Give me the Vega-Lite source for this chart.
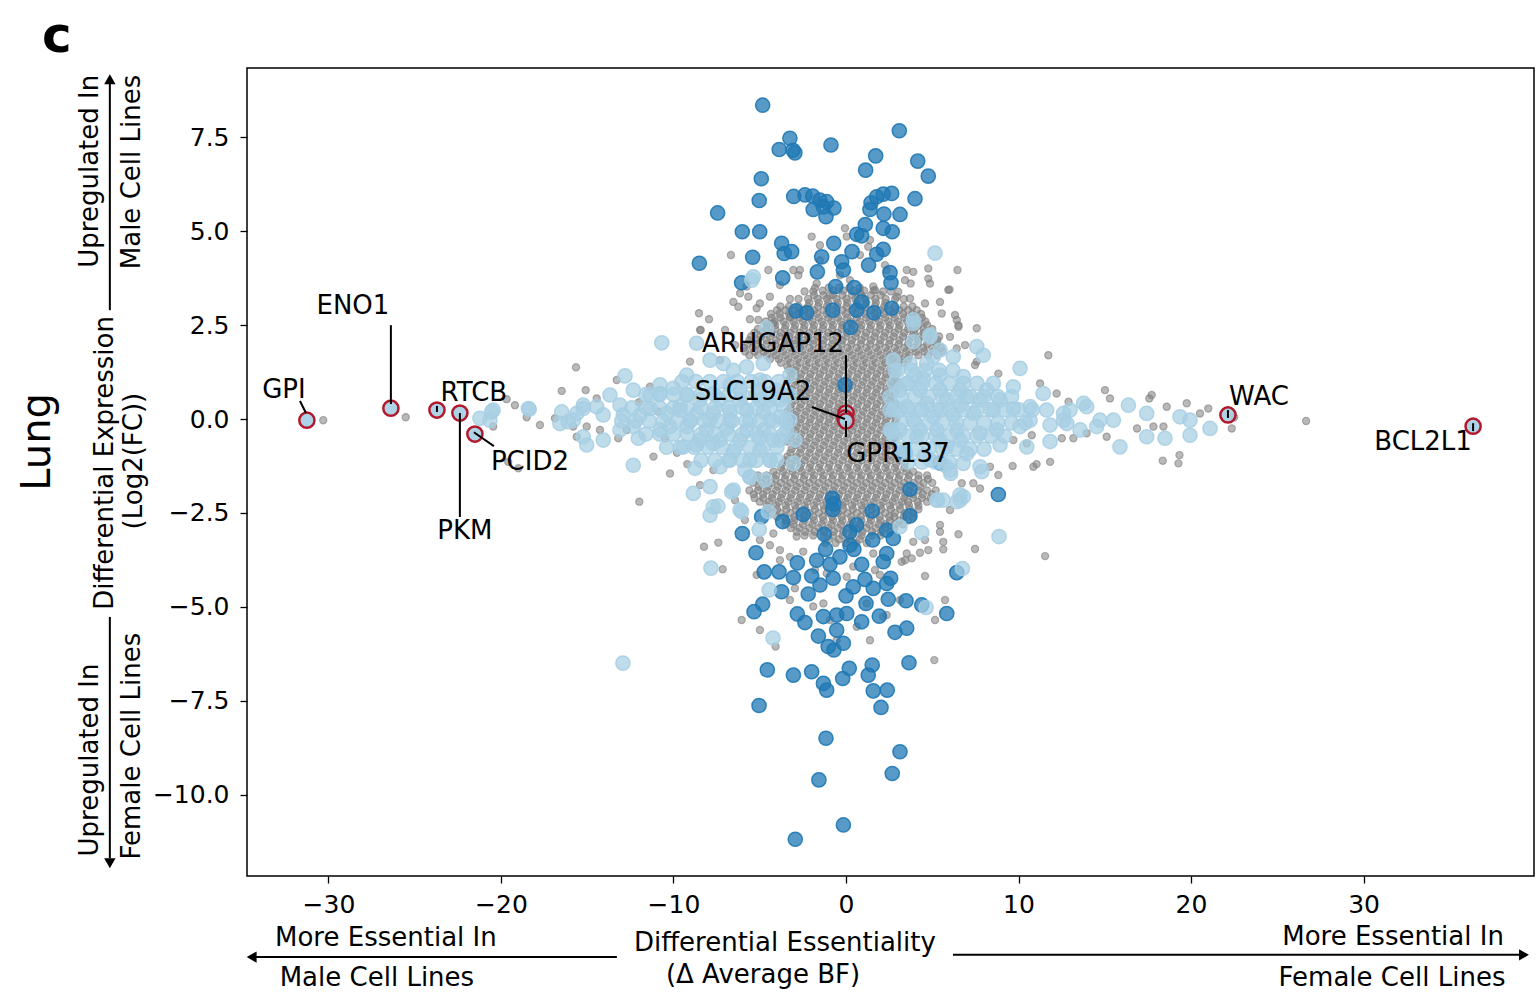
{
"$schema":"https://vega.github.io/schema/vega-lite/v6.json",
"width":1287,"height":808,
"autosize":{"type":"none"},
"padding":{"left":247,"top":68,"right":2,"bottom":118},
"background":"white",
"config":{"view":{"stroke":"black","strokeWidth":1.5},"font":"DejaVu Sans",
"axis":{"grid":false,"domain":false,"ticks":true,"tickColor":"black","tickSize":7,"tickWidth":1.3,"labelFont":"DejaVu Sans","labelFontSize":25,"labelColor":"black","labelFlush":false,"labelOverlap":false},
"axisX":{"labelPadding":9},"axisY":{"labelPadding":11}},
"datasets":{
"gray":[
{"x":-1.35,"y":3.42},{"x":-0.75,"y":3.42},{"x":-0.15,"y":3.42},{"x":0.45,"y":3.42},{"x":1.05,"y":3.42},{"x":1.6,"y":3.42},
{"x":-2.2,"y":3.2},{"x":-1.65,"y":3.2},{"x":-1.1,"y":3.2},{"x":-0.55,"y":3.2},{"x":0.02,"y":3.2},{"x":0.55,"y":3.2},{"x":1.1,"y":3.2},{"x":1.7,"y":3.2},{"x":2.3,"y":3.2},
{"x":-2.75,"y":3.0},{"x":-2.2,"y":3.0},{"x":-1.62,"y":3.0},{"x":-1.1,"y":3.0},{"x":-0.52,"y":3.0},{"x":0.03,"y":3.0},{"x":0.58,"y":3.0},{"x":1.12,"y":3.0},{"x":1.68,"y":3.0},{"x":2.22,"y":3.0},{"x":2.8,"y":3.0},
{"x":-3.3,"y":2.8},{"x":-2.78,"y":2.8},{"x":-2.2,"y":2.8},{"x":-1.68,"y":2.8},{"x":-1.12,"y":2.8},{"x":-0.56,"y":2.8},{"x":0,"y":2.8},{"x":0.55,"y":2.8},{"x":1.1,"y":2.8},{"x":1.66,"y":2.8},{"x":2.2,"y":2.8},{"x":2.74,"y":2.8},{"x":3.3,"y":2.8},
{"x":-3.62,"y":2.6},{"x":-3.05,"y":2.6},{"x":-2.5,"y":2.6},{"x":-1.95,"y":2.6},{"x":-1.4,"y":2.6},{"x":-0.85,"y":2.6},{"x":-0.3,"y":2.6},{"x":0.25,"y":2.6},{"x":0.8,"y":2.6},{"x":1.35,"y":2.6},{"x":1.9,"y":2.6},{"x":2.45,"y":2.6},{"x":3.0,"y":2.6},{"x":3.55,"y":2.6},
{"x":-4.1,"y":2.4},{"x":-3.55,"y":2.4},{"x":-3.0,"y":2.4},{"x":-2.45,"y":2.4},{"x":-1.9,"y":2.4},{"x":-1.35,"y":2.4},{"x":-0.8,"y":2.4},{"x":-0.25,"y":2.4},{"x":0.3,"y":2.4},{"x":0.85,"y":2.4},{"x":1.4,"y":2.4},{"x":1.95,"y":2.4},{"x":2.5,"y":2.4},{"x":3.05,"y":2.4},{"x":3.6,"y":2.4},{"x":4.0,"y":2.4},
{"x":-4.4,"y":2.2},{"x":-3.85,"y":2.2},{"x":-3.3,"y":2.2},{"x":-2.75,"y":2.2},{"x":-2.2,"y":2.2},{"x":-1.65,"y":2.2},{"x":-1.1,"y":2.2},{"x":-0.55,"y":2.2},{"x":0,"y":2.2},{"x":0.55,"y":2.2},{"x":1.1,"y":2.2},{"x":1.65,"y":2.2},{"x":2.2,"y":2.2},{"x":2.75,"y":2.2},{"x":3.3,"y":2.2},{"x":3.85,"y":2.2},{"x":4.3,"y":2.2},
{"x":-4.6,"y":2.0},{"x":-4.1,"y":2.0},{"x":-3.55,"y":2.0},{"x":-3.0,"y":2.0},{"x":-2.45,"y":2.0},{"x":-1.9,"y":2.0},{"x":-1.35,"y":2.0},{"x":-0.8,"y":2.0},{"x":-0.25,"y":2.0},{"x":0.3,"y":2.0},{"x":0.85,"y":2.0},{"x":1.4,"y":2.0},{"x":1.95,"y":2.0},{"x":2.5,"y":2.0},{"x":3.05,"y":2.0},{"x":3.6,"y":2.0},{"x":4.15,"y":2.0},
{"x":-4.75,"y":1.8},{"x":-4.2,"y":1.8},{"x":-3.65,"y":1.8},{"x":-3.1,"y":1.8},{"x":-2.55,"y":1.8},{"x":-2.0,"y":1.8},{"x":-1.45,"y":1.8},{"x":-0.9,"y":1.8},{"x":-0.35,"y":1.8},{"x":0.2,"y":1.8},{"x":0.75,"y":1.8},{"x":1.3,"y":1.8},{"x":1.85,"y":1.8},{"x":2.4,"y":1.8},{"x":2.95,"y":1.8},{"x":3.5,"y":1.8},{"x":4.05,"y":1.8},{"x":4.55,"y":1.8},
{"x":-4.4,"y":1.6},{"x":-3.9,"y":1.6},{"x":-3.35,"y":1.6},{"x":-2.8,"y":1.6},{"x":-2.25,"y":1.6},{"x":-1.7,"y":1.6},{"x":-1.15,"y":1.6},{"x":-0.6,"y":1.6},{"x":-0.05,"y":1.6},{"x":0.5,"y":1.6},{"x":1.05,"y":1.6},{"x":1.6,"y":1.6},{"x":2.15,"y":1.6},{"x":2.7,"y":1.6},{"x":3.25,"y":1.6},{"x":3.6,"y":1.6},
{"x":-3.4,"y":1.4},{"x":-2.85,"y":1.4},{"x":-2.3,"y":1.4},{"x":-1.75,"y":1.4},{"x":-1.2,"y":1.4},{"x":-0.65,"y":1.4},{"x":-0.1,"y":1.4},{"x":0.45,"y":1.4},{"x":1.0,"y":1.4},{"x":1.55,"y":1.4},{"x":2.1,"y":1.4},{"x":2.65,"y":1.4},{"x":3.0,"y":1.4},
{"x":-3.15,"y":1.2},{"x":-2.6,"y":1.2},{"x":-2.05,"y":1.2},{"x":-1.5,"y":1.2},{"x":-0.95,"y":1.2},{"x":-0.4,"y":1.2},{"x":0.15,"y":1.2},{"x":0.7,"y":1.2},{"x":1.25,"y":1.2},{"x":1.8,"y":1.2},{"x":2.35,"y":1.2},{"x":2.9,"y":1.2},
{"x":-3.4,"y":1.0},{"x":-2.85,"y":1.0},{"x":-2.3,"y":1.0},{"x":-1.75,"y":1.0},{"x":-1.2,"y":1.0},{"x":-0.65,"y":1.0},{"x":-0.1,"y":1.0},{"x":0.45,"y":1.0},{"x":1.0,"y":1.0},{"x":1.55,"y":1.0},{"x":2.1,"y":1.0},{"x":2.65,"y":1.0},{"x":3.0,"y":1.0},
{"x":-3.15,"y":0.8},{"x":-2.6,"y":0.8},{"x":-2.05,"y":0.8},{"x":-1.5,"y":0.8},{"x":-0.95,"y":0.8},{"x":-0.4,"y":0.8},{"x":0.15,"y":0.8},{"x":0.7,"y":0.8},{"x":1.25,"y":0.8},{"x":1.8,"y":0.8},{"x":2.35,"y":0.8},{"x":2.9,"y":0.8},
{"x":-3.4,"y":0.6},{"x":-2.85,"y":0.6},{"x":-2.3,"y":0.6},{"x":-1.75,"y":0.6},{"x":-1.2,"y":0.6},{"x":-0.65,"y":0.6},{"x":-0.1,"y":0.6},{"x":0.45,"y":0.6},{"x":1.0,"y":0.6},{"x":1.55,"y":0.6},{"x":2.1,"y":0.6},{"x":2.65,"y":0.6},
{"x":-3.15,"y":0.4},{"x":-2.6,"y":0.4},{"x":-2.05,"y":0.4},{"x":-1.5,"y":0.4},{"x":-0.95,"y":0.4},{"x":-0.4,"y":0.4},{"x":0.15,"y":0.4},{"x":0.7,"y":0.4},{"x":1.25,"y":0.4},{"x":1.8,"y":0.4},{"x":2.35,"y":0.4},{"x":2.9,"y":0.4},
{"x":-3.4,"y":0.2},{"x":-2.85,"y":0.2},{"x":-2.3,"y":0.2},{"x":-1.75,"y":0.2},{"x":-1.2,"y":0.2},{"x":-0.65,"y":0.2},{"x":-0.1,"y":0.2},{"x":0.45,"y":0.2},{"x":1.0,"y":0.2},{"x":1.55,"y":0.2},{"x":2.1,"y":0.2},{"x":2.65,"y":0.2},
{"x":-3.15,"y":0.0},{"x":-2.6,"y":0.0},{"x":-2.05,"y":0.0},{"x":-1.5,"y":0.0},{"x":-0.95,"y":0.0},{"x":-0.4,"y":0.0},{"x":0.15,"y":0.0},{"x":0.7,"y":0.0},{"x":1.25,"y":0.0},{"x":1.8,"y":0.0},{"x":2.35,"y":0.0},{"x":2.9,"y":0.0},
{"x":-3.4,"y":-0.2},{"x":-2.85,"y":-0.2},{"x":-2.3,"y":-0.2},{"x":-1.75,"y":-0.2},{"x":-1.2,"y":-0.2},{"x":-0.65,"y":-0.2},{"x":-0.1,"y":-0.2},{"x":0.45,"y":-0.2},{"x":1.0,"y":-0.2},{"x":1.55,"y":-0.2},{"x":2.1,"y":-0.2},{"x":2.65,"y":-0.2},
{"x":-3.15,"y":-0.4},{"x":-2.6,"y":-0.4},{"x":-2.05,"y":-0.4},{"x":-1.5,"y":-0.4},{"x":-0.95,"y":-0.4},{"x":-0.4,"y":-0.4},{"x":0.15,"y":-0.4},{"x":0.7,"y":-0.4},{"x":1.25,"y":-0.4},{"x":1.8,"y":-0.4},{"x":2.35,"y":-0.4},{"x":2.9,"y":-0.4},
{"x":-3.4,"y":-0.6},{"x":-2.85,"y":-0.6},{"x":-2.3,"y":-0.6},{"x":-1.75,"y":-0.6},{"x":-1.2,"y":-0.6},{"x":-0.65,"y":-0.6},{"x":-0.1,"y":-0.6},{"x":0.45,"y":-0.6},{"x":1.0,"y":-0.6},{"x":1.55,"y":-0.6},{"x":2.1,"y":-0.6},{"x":2.65,"y":-0.6},
{"x":-3.15,"y":-0.8},{"x":-2.6,"y":-0.8},{"x":-2.05,"y":-0.8},{"x":-1.5,"y":-0.8},{"x":-0.95,"y":-0.8},{"x":-0.4,"y":-0.8},{"x":0.15,"y":-0.8},{"x":0.7,"y":-0.8},{"x":1.25,"y":-0.8},{"x":1.8,"y":-0.8},{"x":2.35,"y":-0.8},{"x":2.9,"y":-0.8},
{"x":-3.4,"y":-1.0},{"x":-2.85,"y":-1.0},{"x":-2.3,"y":-1.0},{"x":-1.75,"y":-1.0},{"x":-1.2,"y":-1.0},{"x":-0.65,"y":-1.0},{"x":-0.1,"y":-1.0},{"x":0.45,"y":-1.0},{"x":1.0,"y":-1.0},{"x":1.55,"y":-1.0},{"x":2.1,"y":-1.0},{"x":2.65,"y":-1.0},{"x":3.1,"y":-1.0},
{"x":-3.7,"y":-1.2},{"x":-3.15,"y":-1.2},{"x":-2.6,"y":-1.2},{"x":-2.05,"y":-1.2},{"x":-1.5,"y":-1.2},{"x":-0.95,"y":-1.2},{"x":-0.4,"y":-1.2},{"x":0.15,"y":-1.2},{"x":0.7,"y":-1.2},{"x":1.25,"y":-1.2},{"x":1.8,"y":-1.2},{"x":2.35,"y":-1.2},{"x":2.9,"y":-1.2},{"x":3.4,"y":-1.2},
{"x":-4.2,"y":-1.4},{"x":-3.65,"y":-1.4},{"x":-3.1,"y":-1.4},{"x":-2.55,"y":-1.4},{"x":-2.0,"y":-1.4},{"x":-1.45,"y":-1.4},{"x":-0.9,"y":-1.4},{"x":-0.35,"y":-1.4},{"x":0.2,"y":-1.4},{"x":0.75,"y":-1.4},{"x":1.3,"y":-1.4},{"x":1.85,"y":-1.4},{"x":2.4,"y":-1.4},{"x":2.95,"y":-1.4},{"x":3.5,"y":-1.4},{"x":3.9,"y":-1.4},
{"x":-4.65,"y":-1.6},{"x":-4.1,"y":-1.6},{"x":-3.55,"y":-1.6},{"x":-3.0,"y":-1.6},{"x":-2.45,"y":-1.6},{"x":-1.9,"y":-1.6},{"x":-1.35,"y":-1.6},{"x":-0.8,"y":-1.6},{"x":-0.25,"y":-1.6},{"x":0.3,"y":-1.6},{"x":0.85,"y":-1.6},{"x":1.4,"y":-1.6},{"x":1.95,"y":-1.6},{"x":2.5,"y":-1.6},{"x":3.05,"y":-1.6},{"x":3.6,"y":-1.6},{"x":4.2,"y":-1.6},
{"x":-4.5,"y":-1.8},{"x":-3.95,"y":-1.8},{"x":-3.4,"y":-1.8},{"x":-2.85,"y":-1.8},{"x":-2.3,"y":-1.8},{"x":-1.75,"y":-1.8},{"x":-1.2,"y":-1.8},{"x":-0.65,"y":-1.8},{"x":-0.1,"y":-1.8},{"x":0.45,"y":-1.8},{"x":1.0,"y":-1.8},{"x":1.55,"y":-1.8},{"x":2.1,"y":-1.8},{"x":2.65,"y":-1.8},{"x":3.2,"y":-1.8},{"x":3.75,"y":-1.8},
{"x":-4.25,"y":-2.0},{"x":-3.7,"y":-2.0},{"x":-3.15,"y":-2.0},{"x":-2.6,"y":-2.0},{"x":-2.05,"y":-2.0},{"x":-1.5,"y":-2.0},{"x":-0.95,"y":-2.0},{"x":-0.4,"y":-2.0},{"x":0.15,"y":-2.0},{"x":0.7,"y":-2.0},{"x":1.25,"y":-2.0},{"x":1.8,"y":-2.0},{"x":2.35,"y":-2.0},{"x":2.9,"y":-2.0},{"x":3.45,"y":-2.0},{"x":3.9,"y":-2.0},
{"x":-3.9,"y":-2.2},{"x":-3.35,"y":-2.2},{"x":-2.8,"y":-2.2},{"x":-2.25,"y":-2.2},{"x":-1.7,"y":-2.2},{"x":-1.15,"y":-2.2},{"x":-0.6,"y":-2.2},{"x":-0.05,"y":-2.2},{"x":0.5,"y":-2.2},{"x":1.05,"y":-2.2},{"x":1.6,"y":-2.2},{"x":2.15,"y":-2.2},{"x":2.7,"y":-2.2},{"x":3.25,"y":-2.2},{"x":3.6,"y":-2.2},
{"x":-3.45,"y":-2.4},{"x":-2.9,"y":-2.4},{"x":-2.35,"y":-2.4},{"x":-1.8,"y":-2.4},{"x":-1.25,"y":-2.4},{"x":-0.7,"y":-2.4},{"x":-0.15,"y":-2.4},{"x":0.4,"y":-2.4},{"x":0.95,"y":-2.4},{"x":1.5,"y":-2.4},{"x":2.05,"y":-2.4},{"x":2.6,"y":-2.4},{"x":3.15,"y":-2.4},
{"x":-3.0,"y":-2.6},{"x":-2.45,"y":-2.6},{"x":-1.9,"y":-2.6},{"x":-1.35,"y":-2.6},{"x":-0.8,"y":-2.6},{"x":-0.25,"y":-2.6},{"x":0.3,"y":-2.6},{"x":0.85,"y":-2.6},{"x":1.4,"y":-2.6},{"x":1.95,"y":-2.6},{"x":2.5,"y":-2.6},{"x":2.8,"y":-2.6},
{"x":-2.5,"y":-2.8},{"x":-1.95,"y":-2.8},{"x":-1.4,"y":-2.8},{"x":-0.85,"y":-2.8},{"x":-0.3,"y":-2.8},{"x":0.25,"y":-2.8},{"x":0.8,"y":-2.8},{"x":1.35,"y":-2.8},{"x":1.9,"y":-2.8},{"x":2.3,"y":-2.8},
{"x":-1.8,"y":-3.0},{"x":-1.25,"y":-3.0},{"x":-0.7,"y":-3.0},{"x":-0.15,"y":-3.0},{"x":0.4,"y":-3.0},{"x":0.95,"y":-3.0},{"x":1.5,"y":-3.0},
{"x":-1.0,"y":-3.2},{"x":-0.4,"y":-3.2},{"x":0.2,"y":-3.2},{"x":0.8,"y":-3.2},
{"x":-1.85,"y":3.3},{"x":-1.3,"y":3.3},{"x":-0.75,"y":3.3},{"x":-0.2,"y":3.3},{"x":0.35,"y":3.3},{"x":0.9,"y":3.3},{"x":1.45,"y":3.3},{"x":2.0,"y":3.3},
{"x":-2.12,"y":3.1},{"x":-1.57,"y":3.1},{"x":-1.02,"y":3.1},{"x":-0.47,"y":3.1},{"x":0.08,"y":3.1},{"x":0.63,"y":3.1},{"x":1.18,"y":3.1},{"x":1.73,"y":3.1},{"x":2.28,"y":3.1},
{"x":-2.95,"y":2.9},{"x":-2.4,"y":2.9},{"x":-1.85,"y":2.9},{"x":-1.3,"y":2.9},{"x":-0.75,"y":2.9},{"x":-0.2,"y":2.9},{"x":0.35,"y":2.9},{"x":0.9,"y":2.9},{"x":1.45,"y":2.9},{"x":2.0,"y":2.9},{"x":2.55,"y":2.9},{"x":3.1,"y":2.9},
{"x":-3.22,"y":2.7},{"x":-2.67,"y":2.7},{"x":-2.12,"y":2.7},{"x":-1.57,"y":2.7},{"x":-1.02,"y":2.7},{"x":-0.47,"y":2.7},{"x":0.08,"y":2.7},{"x":0.63,"y":2.7},{"x":1.18,"y":2.7},{"x":1.73,"y":2.7},{"x":2.28,"y":2.7},{"x":2.83,"y":2.7},{"x":3.38,"y":2.7},
{"x":-3.5,"y":2.5},{"x":-2.95,"y":2.5},{"x":-2.4,"y":2.5},{"x":-1.85,"y":2.5},{"x":-1.3,"y":2.5},{"x":-0.75,"y":2.5},{"x":-0.2,"y":2.5},{"x":0.35,"y":2.5},{"x":0.9,"y":2.5},{"x":1.45,"y":2.5},{"x":2.0,"y":2.5},{"x":2.55,"y":2.5},{"x":3.1,"y":2.5},{"x":3.65,"y":2.5},
{"x":-4.32,"y":2.3},{"x":-3.77,"y":2.3},{"x":-3.22,"y":2.3},{"x":-2.67,"y":2.3},{"x":-2.12,"y":2.3},{"x":-1.57,"y":2.3},{"x":-1.02,"y":2.3},{"x":-0.47,"y":2.3},{"x":0.08,"y":2.3},{"x":0.63,"y":2.3},{"x":1.18,"y":2.3},{"x":1.73,"y":2.3},{"x":2.28,"y":2.3},{"x":2.83,"y":2.3},{"x":3.38,"y":2.3},{"x":3.93,"y":2.3},
{"x":-4.05,"y":2.1},{"x":-3.5,"y":2.1},{"x":-2.95,"y":2.1},{"x":-2.4,"y":2.1},{"x":-1.85,"y":2.1},{"x":-1.3,"y":2.1},{"x":-0.75,"y":2.1},{"x":-0.2,"y":2.1},{"x":0.35,"y":2.1},{"x":0.9,"y":2.1},{"x":1.45,"y":2.1},{"x":2.0,"y":2.1},{"x":2.55,"y":2.1},{"x":3.1,"y":2.1},{"x":3.65,"y":2.1},{"x":4.2,"y":2.1},
{"x":-4.32,"y":1.9},{"x":-3.77,"y":1.9},{"x":-3.22,"y":1.9},{"x":-2.67,"y":1.9},{"x":-2.12,"y":1.9},{"x":-1.57,"y":1.9},{"x":-1.02,"y":1.9},{"x":-0.47,"y":1.9},{"x":0.08,"y":1.9},{"x":0.63,"y":1.9},{"x":1.18,"y":1.9},{"x":1.73,"y":1.9},{"x":2.28,"y":1.9},{"x":2.83,"y":1.9},{"x":3.38,"y":1.9},{"x":3.93,"y":1.9},{"x":4.48,"y":1.9},
{"x":-4.6,"y":1.7},{"x":-4.05,"y":1.7},{"x":-3.5,"y":1.7},{"x":-2.95,"y":1.7},{"x":-2.4,"y":1.7},{"x":-1.85,"y":1.7},{"x":-1.3,"y":1.7},{"x":-0.75,"y":1.7},{"x":-0.2,"y":1.7},{"x":0.35,"y":1.7},{"x":0.9,"y":1.7},{"x":1.45,"y":1.7},{"x":2.0,"y":1.7},{"x":2.55,"y":1.7},{"x":3.1,"y":1.7},{"x":3.65,"y":1.7},{"x":4.2,"y":1.7},
{"x":-3.77,"y":1.5},{"x":-3.22,"y":1.5},{"x":-2.67,"y":1.5},{"x":-2.12,"y":1.5},{"x":-1.57,"y":1.5},{"x":-1.02,"y":1.5},{"x":-0.47,"y":1.5},{"x":0.08,"y":1.5},{"x":0.63,"y":1.5},{"x":1.18,"y":1.5},{"x":1.73,"y":1.5},{"x":2.28,"y":1.5},{"x":2.83,"y":1.5},{"x":3.3,"y":1.5},
{"x":-3.3,"y":1.3},{"x":-2.95,"y":1.3},{"x":-2.4,"y":1.3},{"x":-1.85,"y":1.3},{"x":-1.3,"y":1.3},{"x":-0.75,"y":1.3},{"x":-0.2,"y":1.3},{"x":0.35,"y":1.3},{"x":0.9,"y":1.3},{"x":1.45,"y":1.3},{"x":2.0,"y":1.3},{"x":2.55,"y":1.3},
{"x":-3.22,"y":1.1},{"x":-2.67,"y":1.1},{"x":-2.12,"y":1.1},{"x":-1.57,"y":1.1},{"x":-1.02,"y":1.1},{"x":-0.47,"y":1.1},{"x":0.08,"y":1.1},{"x":0.63,"y":1.1},{"x":1.18,"y":1.1},{"x":1.73,"y":1.1},{"x":2.28,"y":1.1},{"x":2.83,"y":1.1},
{"x":-2.95,"y":0.9},{"x":-2.4,"y":0.9},{"x":-1.85,"y":0.9},{"x":-1.3,"y":0.9},{"x":-0.75,"y":0.9},{"x":-0.2,"y":0.9},{"x":0.35,"y":0.9},{"x":0.9,"y":0.9},{"x":1.45,"y":0.9},{"x":2.0,"y":0.9},{"x":2.55,"y":0.9},
{"x":-3.22,"y":0.7},{"x":-2.67,"y":0.7},{"x":-2.12,"y":0.7},{"x":-1.57,"y":0.7},{"x":-1.02,"y":0.7},{"x":-0.47,"y":0.7},{"x":0.08,"y":0.7},{"x":0.63,"y":0.7},{"x":1.18,"y":0.7},{"x":1.73,"y":0.7},{"x":2.28,"y":0.7},{"x":2.83,"y":0.7},
{"x":-2.95,"y":0.5},{"x":-2.4,"y":0.5},{"x":-1.85,"y":0.5},{"x":-1.3,"y":0.5},{"x":-0.75,"y":0.5},{"x":-0.2,"y":0.5},{"x":0.35,"y":0.5},{"x":0.9,"y":0.5},{"x":1.45,"y":0.5},{"x":2.0,"y":0.5},{"x":2.55,"y":0.5},
{"x":-3.22,"y":0.3},{"x":-2.67,"y":0.3},{"x":-2.12,"y":0.3},{"x":-1.57,"y":0.3},{"x":-1.02,"y":0.3},{"x":-0.47,"y":0.3},{"x":0.08,"y":0.3},{"x":0.63,"y":0.3},{"x":1.18,"y":0.3},{"x":1.73,"y":0.3},{"x":2.28,"y":0.3},{"x":2.83,"y":0.3},
{"x":-2.95,"y":0.1},{"x":-2.4,"y":0.1},{"x":-1.85,"y":0.1},{"x":-1.3,"y":0.1},{"x":-0.75,"y":0.1},{"x":-0.2,"y":0.1},{"x":0.35,"y":0.1},{"x":0.9,"y":0.1},{"x":1.45,"y":0.1},{"x":2.0,"y":0.1},{"x":2.55,"y":0.1},
{"x":-3.22,"y":-0.1},{"x":-2.67,"y":-0.1},{"x":-2.12,"y":-0.1},{"x":-1.57,"y":-0.1},{"x":-1.02,"y":-0.1},{"x":-0.47,"y":-0.1},{"x":0.08,"y":-0.1},{"x":0.63,"y":-0.1},{"x":1.18,"y":-0.1},{"x":1.73,"y":-0.1},{"x":2.28,"y":-0.1},{"x":2.83,"y":-0.1},
{"x":-2.95,"y":-0.3},{"x":-2.4,"y":-0.3},{"x":-1.85,"y":-0.3},{"x":-1.3,"y":-0.3},{"x":-0.75,"y":-0.3},{"x":-0.2,"y":-0.3},{"x":0.35,"y":-0.3},{"x":0.9,"y":-0.3},{"x":1.45,"y":-0.3},{"x":2.0,"y":-0.3},{"x":2.55,"y":-0.3},
{"x":-3.22,"y":-0.5},{"x":-2.67,"y":-0.5},{"x":-2.12,"y":-0.5},{"x":-1.57,"y":-0.5},{"x":-1.02,"y":-0.5},{"x":-0.47,"y":-0.5},{"x":0.08,"y":-0.5},{"x":0.63,"y":-0.5},{"x":1.18,"y":-0.5},{"x":1.73,"y":-0.5},{"x":2.28,"y":-0.5},{"x":2.83,"y":-0.5},
{"x":-2.95,"y":-0.7},{"x":-2.4,"y":-0.7},{"x":-1.85,"y":-0.7},{"x":-1.3,"y":-0.7},{"x":-0.75,"y":-0.7},{"x":-0.2,"y":-0.7},{"x":0.35,"y":-0.7},{"x":0.9,"y":-0.7},{"x":1.45,"y":-0.7},{"x":2.0,"y":-0.7},{"x":2.55,"y":-0.7},
{"x":-3.22,"y":-0.9},{"x":-2.67,"y":-0.9},{"x":-2.12,"y":-0.9},{"x":-1.57,"y":-0.9},{"x":-1.02,"y":-0.9},{"x":-0.47,"y":-0.9},{"x":0.08,"y":-0.9},{"x":0.63,"y":-0.9},{"x":1.18,"y":-0.9},{"x":1.73,"y":-0.9},{"x":2.28,"y":-0.9},{"x":2.83,"y":-0.9},
{"x":-3.5,"y":-1.1},{"x":-2.95,"y":-1.1},{"x":-2.4,"y":-1.1},{"x":-1.85,"y":-1.1},{"x":-1.3,"y":-1.1},{"x":-0.75,"y":-1.1},{"x":-0.2,"y":-1.1},{"x":0.35,"y":-1.1},{"x":0.9,"y":-1.1},{"x":1.45,"y":-1.1},{"x":2.0,"y":-1.1},{"x":2.55,"y":-1.1},{"x":3.1,"y":-1.1},
{"x":-3.77,"y":-1.3},{"x":-3.22,"y":-1.3},{"x":-2.67,"y":-1.3},{"x":-2.12,"y":-1.3},{"x":-1.57,"y":-1.3},{"x":-1.02,"y":-1.3},{"x":-0.47,"y":-1.3},{"x":0.08,"y":-1.3},{"x":0.63,"y":-1.3},{"x":1.18,"y":-1.3},{"x":1.73,"y":-1.3},{"x":2.28,"y":-1.3},{"x":2.83,"y":-1.3},{"x":3.38,"y":-1.3},
{"x":-4.05,"y":-1.5},{"x":-3.5,"y":-1.5},{"x":-2.95,"y":-1.5},{"x":-2.4,"y":-1.5},{"x":-1.85,"y":-1.5},{"x":-1.3,"y":-1.5},{"x":-0.75,"y":-1.5},{"x":-0.2,"y":-1.5},{"x":0.35,"y":-1.5},{"x":0.9,"y":-1.5},{"x":1.45,"y":-1.5},{"x":2.0,"y":-1.5},{"x":2.55,"y":-1.5},{"x":3.1,"y":-1.5},{"x":3.65,"y":-1.5},
{"x":-4.32,"y":-1.7},{"x":-3.77,"y":-1.7},{"x":-3.22,"y":-1.7},{"x":-2.67,"y":-1.7},{"x":-2.12,"y":-1.7},{"x":-1.57,"y":-1.7},{"x":-1.02,"y":-1.7},{"x":-0.47,"y":-1.7},{"x":0.08,"y":-1.7},{"x":0.63,"y":-1.7},{"x":1.18,"y":-1.7},{"x":1.73,"y":-1.7},{"x":2.28,"y":-1.7},{"x":2.83,"y":-1.7},{"x":3.38,"y":-1.7},{"x":3.93,"y":-1.7},
{"x":-4.05,"y":-1.9},{"x":-3.5,"y":-1.9},{"x":-2.95,"y":-1.9},{"x":-2.4,"y":-1.9},{"x":-1.85,"y":-1.9},{"x":-1.3,"y":-1.9},{"x":-0.75,"y":-1.9},{"x":-0.2,"y":-1.9},{"x":0.35,"y":-1.9},{"x":0.9,"y":-1.9},{"x":1.45,"y":-1.9},{"x":2.0,"y":-1.9},{"x":2.55,"y":-1.9},{"x":3.1,"y":-1.9},{"x":3.65,"y":-1.9},
{"x":-3.77,"y":-2.1},{"x":-3.22,"y":-2.1},{"x":-2.67,"y":-2.1},{"x":-2.12,"y":-2.1},{"x":-1.57,"y":-2.1},{"x":-1.02,"y":-2.1},{"x":-0.47,"y":-2.1},{"x":0.08,"y":-2.1},{"x":0.63,"y":-2.1},{"x":1.18,"y":-2.1},{"x":1.73,"y":-2.1},{"x":2.28,"y":-2.1},{"x":2.83,"y":-2.1},{"x":3.38,"y":-2.1},
{"x":-3.5,"y":-2.3},{"x":-2.95,"y":-2.3},{"x":-2.4,"y":-2.3},{"x":-1.85,"y":-2.3},{"x":-1.3,"y":-2.3},{"x":-0.75,"y":-2.3},{"x":-0.2,"y":-2.3},{"x":0.35,"y":-2.3},{"x":0.9,"y":-2.3},{"x":1.45,"y":-2.3},{"x":2.0,"y":-2.3},{"x":2.55,"y":-2.3},{"x":3.1,"y":-2.3},
{"x":-3.22,"y":-2.5},{"x":-2.67,"y":-2.5},{"x":-2.12,"y":-2.5},{"x":-1.57,"y":-2.5},{"x":-1.02,"y":-2.5},{"x":-0.47,"y":-2.5},{"x":0.08,"y":-2.5},{"x":0.63,"y":-2.5},{"x":1.18,"y":-2.5},{"x":1.73,"y":-2.5},{"x":2.28,"y":-2.5},{"x":2.83,"y":-2.5},
{"x":-2.4,"y":-2.7},{"x":-1.85,"y":-2.7},{"x":-1.3,"y":-2.7},{"x":-0.75,"y":-2.7},{"x":-0.2,"y":-2.7},{"x":0.35,"y":-2.7},{"x":0.9,"y":-2.7},{"x":1.45,"y":-2.7},{"x":2.0,"y":-2.7},{"x":2.55,"y":-2.7},
{"x":-2.12,"y":-2.9},{"x":-1.57,"y":-2.9},{"x":-1.02,"y":-2.9},{"x":-0.47,"y":-2.9},{"x":0.08,"y":-2.9},{"x":0.63,"y":-2.9},{"x":1.18,"y":-2.9},{"x":1.73,"y":-2.9},
{"x":-1.3,"y":-3.1},{"x":-0.75,"y":-3.1},{"x":-0.2,"y":-3.1},{"x":0.35,"y":-3.1},{"x":0.9,"y":-3.1},
{"x":-3.5,"y":2.9},{"x":-4.0,"y":2.9},{"x":3.6,"y":2.9},{"x":4.1,"y":2.9},{"x":-3.8,"y":2.7},{"x":-4.3,"y":2.7},{"x":3.9,"y":2.7},{"x":4.4,"y":2.7},{"x":-4.1,"y":2.5},{"x":-4.6,"y":2.5},{"x":4.2,"y":2.5},{"x":4.7,"y":2.5},{"x":-4.8,"y":2.3},{"x":-5.3,"y":2.3},{"x":4.5,"y":2.3},{"x":5.0,"y":2.3},{"x":-4.6,"y":2.1},{"x":-5.1,"y":2.1},{"x":-5.6,"y":2.1},{"x":4.75,"y":2.1},{"x":5.3,"y":2.1},{"x":-4.9,"y":1.9},{"x":-5.4,"y":1.9},{"x":-5.9,"y":1.9},{"x":5.0,"y":1.9},{"x":5.5,"y":1.9},{"x":-5.1,"y":1.7},{"x":-5.6,"y":1.7},{"x":4.75,"y":1.7},{"x":5.3,"y":1.7},
{"x":-4.6,"y":-1.5},{"x":-5.1,"y":-1.5},{"x":4.2,"y":-1.5},{"x":4.7,"y":-1.5},{"x":-4.9,"y":-1.7},{"x":-5.4,"y":-1.7},{"x":4.5,"y":-1.7},{"x":5.0,"y":-1.7},{"x":-4.6,"y":-1.9},{"x":-5.1,"y":-1.9},{"x":-5.6,"y":-1.9},{"x":4.2,"y":-1.9},{"x":4.7,"y":-1.9},{"x":5.2,"y":-1.9},{"x":-4.3,"y":-2.1},{"x":-4.8,"y":-2.1},{"x":-5.3,"y":-2.1},{"x":3.9,"y":-2.1},{"x":4.4,"y":-2.1},{"x":4.9,"y":-2.1},{"x":-4.05,"y":-2.3},{"x":-4.6,"y":-2.3},{"x":3.65,"y":-2.3},{"x":4.2,"y":-2.3},{"x":-3.8,"y":-2.5},{"x":-4.3,"y":-2.5},{"x":3.4,"y":-2.5},{"x":3.9,"y":-2.5},{"x":-3.0,"y":-2.7},{"x":-3.5,"y":-2.7},{"x":3.1,"y":-2.7},{"x":3.6,"y":-2.7},{"x":-2.7,"y":-2.9},{"x":-3.2,"y":-2.9},{"x":2.3,"y":-2.9},{"x":2.8,"y":-2.9},{"x":-1.9,"y":-3.1},{"x":-2.4,"y":-3.1},{"x":1.5,"y":-3.1},{"x":2.0,"y":-3.1},{"x":-1.2,"y":-3.3},{"x":-0.6,"y":-3.3},{"x":0,"y":-3.3},{"x":0.6,"y":-3.3},{"x":1.2,"y":-3.3},{"x":-1.0,"y":3.5},{"x":-0.4,"y":3.5},{"x":0.2,"y":3.5},{"x":0.8,"y":3.5},
{"x":-4.6,"y":2.4},{"x":-5.1,"y":2.4},{"x":4.5,"y":2.4},{"x":5.0,"y":2.4},{"x":-4.95,"y":2.2},{"x":-5.5,"y":2.2},{"x":4.85,"y":2.2},{"x":5.4,"y":2.2},{"x":-5.15,"y":2.0},{"x":-5.7,"y":2.0},{"x":4.7,"y":2.0},{"x":5.25,"y":2.0},{"x":-5.3,"y":1.8},{"x":-5.85,"y":1.8},{"x":5.1,"y":1.8},{"x":5.6,"y":1.8},{"x":-5.2,"y":-1.6},{"x":4.75,"y":-1.6},{"x":-5.05,"y":-1.8},{"x":4.3,"y":-1.8},{"x":-4.8,"y":-2.0},{"x":-5.35,"y":-2.0},{"x":4.45,"y":-2.0},{"x":5.0,"y":-2.0},{"x":-4.45,"y":-2.2},{"x":-5.0,"y":-2.2},{"x":4.15,"y":-2.2},{"x":4.7,"y":-2.2},{"x":-4.0,"y":-2.4},{"x":-4.5,"y":-2.4},{"x":3.7,"y":-2.4},{"x":4.2,"y":-2.4},{"x":-3.55,"y":-2.6},{"x":-4.0,"y":-2.6},{"x":3.35,"y":-2.6},{"x":3.85,"y":-2.6},{"x":-3.05,"y":-2.8},{"x":-3.5,"y":-2.8},{"x":2.85,"y":-2.8},{"x":3.3,"y":-2.8},{"x":-2.35,"y":-3.0},{"x":-2.85,"y":-3.0},{"x":2.05,"y":-3.0},{"x":2.55,"y":-3.0},{"x":-4.15,"y":2.6},{"x":-4.65,"y":2.6},{"x":4.1,"y":2.6},{"x":4.6,"y":2.6},{"x":-3.85,"y":2.8},{"x":-4.35,"y":2.8},{"x":3.85,"y":2.8},{"x":4.35,"y":2.8},{"x":-3.3,"y":3.0},{"x":-3.8,"y":3.0},{"x":3.35,"y":3.0},{"x":3.85,"y":3.0},{"x":-2.75,"y":3.2},{"x":-3.25,"y":3.2},{"x":2.85,"y":3.2},{"x":3.35,"y":3.2},{"x":-1.9,"y":3.4},{"x":-2.4,"y":3.4},{"x":2.15,"y":3.4},{"x":2.6,"y":3.4},
{"x":-30.3,"y":-0.03},{"x":-25.52,"y":0.05},{"x":-15.65,"y":1.38},{"x":-16.48,"y":0.75},{"x":-15.09,"y":0.77},{"x":-19.19,"y":0.37},{"x":-19.67,"y":0.53},{"x":-18.51,"y":0.05},{"x":-17.74,"y":-0.16},{"x":-16.87,"y":0.02},{"x":-19.58,"y":-1.14},{"x":-18.99,"y":-1.31},{"x":-14.45,"y":0.55},{"x":-15.81,"y":-0.2},{"x":-15.03,"y":-0.2},{"x":-13.29,"y":1.04},{"x":-11.36,"y":0.86},{"x":-15.61,"y":-0.47},{"x":-13.2,"y":-0.51},{"x":-11.16,"y":-1.0},{"x":-10.2,"y":-1.45},{"x":-11.98,"y":-2.2},{"x":-9.04,"y":1.53},{"x":-8.46,"y":2.37},{"x":-14.26,"y":-0.29},{"x":-12.71,"y":-0.29},{"x":-10.49,"y":-0.51},{"x":-8.46,"y":-1.76},{"x":-7.69,"y":-1.36},{"x":-20.45,"y":-0.2},{"x":-8.52,"y":2.82},{"x":-7.94,"y":2.66},{"x":-8.42,"y":2.37},{"x":-7.01,"y":2.37},{"x":-6.43,"y":1.97},{"x":-7.3,"y":1.57},{"x":-12.0,"y":0.45},{"x":-10.9,"y":0.2},{"x":-9.8,"y":-0.9},{"x":-9.2,"y":-1.2},{"x":-6.43,"y":-2.16},{"x":-5.86,"y":-2.69},{"x":-4.99,"y":-3.22},{"x":-8.23,"y":-3.4},{"x":-7.4,"y":-3.29},{"x":-7.15,"y":-4.0},{"x":-6.05,"y":-5.35},{"x":-4.08,"y":-6.06},
{"x":-6.67,"y":4.37},{"x":-4.5,"y":3.97},{"x":-1.99,"y":4.86},{"x":-0.06,"y":5.08},{"x":0.04,"y":4.86},{"x":3.52,"y":3.97},{"x":4.77,"y":4.01},{"x":6.46,"y":3.97},{"x":4.87,"y":3.61},{"x":5.93,"y":3.44},{"x":3.75,"y":3.61},{"x":-5.57,"y":2.66},{"x":-5.18,"y":2.95},{"x":-6.14,"y":3.35},{"x":-5.66,"y":3.26},{"x":-4.99,"y":3.08},{"x":-4.41,"y":3.26},{"x":-3.05,"y":3.97},{"x":-2.76,"y":3.83},{"x":-1.7,"y":3.61},{"x":1.29,"y":4.59},{"x":1.58,"y":3.53},{"x":3.03,"y":3.39},{"x":3.71,"y":3.21},{"x":4.58,"y":3.08},{"x":5.55,"y":2.81},{"x":5.45,"y":3.12},{"x":6.42,"y":2.64},{"x":6.0,"y":3.45},{"x":6.52,"y":2.46},{"x":4.77,"y":3.74},{"x":3.9,"y":3.92},{"x":-5.76,"y":3.53},{"x":-6.53,"y":3.12},{"x":-6.24,"y":2.99},{"x":-5.08,"y":2.64},{"x":-4.21,"y":2.55},{"x":-3.25,"y":2.72},{"x":2.36,"y":3.97},{"x":2.94,"y":3.26},{"x":-3.83,"y":3.57},{"x":-2.67,"y":3.97},{"x":-1.51,"y":4.23},{"x":0.81,"y":4.37},{"x":2.26,"y":4.1},{"x":3.42,"y":3.7},{"x":-1.51,"y":4.63},{"x":-0.35,"y":3.83},{"x":0.23,"y":3.7},{"x":-1.8,"y":3.49},{"x":1.68,"y":3.44},{"x":-0.93,"y":3.3},{"x":0.81,"y":3.38},{"x":1.39,"y":4.77},{"x":6.32,"y":2.77},
{"x":11.73,"y":1.7},{"x":7.58,"y":2.42},{"x":6.52,"y":2.5},{"x":6.03,"y":2.19},{"x":6.42,"y":1.88},{"x":7.58,"y":1.53},{"x":8.83,"y":1.21},{"x":11.25,"y":0.95},{"x":12.21,"y":0.68},{"x":12.9,"y":0.46},{"x":15.01,"y":0.77},{"x":15.3,"y":0.55},{"x":17.58,"y":0.55},{"x":17.72,"y":0.64},{"x":18.59,"y":0.33},{"x":19.75,"y":0.42},{"x":20.52,"y":0.15},{"x":21.0,"y":0.28},{"x":22.36,"y":-0.25},{"x":16.87,"y":-0.25},{"x":17.82,"y":-0.2},{"x":15.11,"y":-0.47},{"x":13.95,"y":-0.38},{"x":13.18,"y":-0.51},{"x":18.4,"y":-0.2},{"x":18.36,"y":-1.11},{"x":19.27,"y":-1.18},{"x":19.33,"y":-0.96},{"x":11.83,"y":-1.14},{"x":10.86,"y":-1.27},{"x":11.05,"y":-1.2},{"x":9.66,"y":-1.25},{"x":8.83,"y":-1.49},{"x":8.35,"y":-1.27},{"x":6.71,"y":-1.71},{"x":7.38,"y":-1.71},{"x":7.77,"y":-1.85},{"x":9.7,"y":-0.56},{"x":10.48,"y":-0.65},{"x":10.77,"y":-0.43},{"x":12.51,"y":-0.51},{"x":26.67,"y":-0.05},{"x":22.5,"y":0.05},{"x":11.54,"y":-3.65},{"x":6.9,"y":1.97},{"x":7.48,"y":1.44},
{"x":5.12,"y":-6.42},{"x":4.58,"y":-4.18},{"x":5.64,"y":-3.47},{"x":5.64,"y":-3.27},{"x":6.52,"y":-3.07},{"x":7.48,"y":-3.46},{"x":5.45,"y":-3.0},{"x":4.77,"y":-3.49},{"x":4.29,"y":-3.56},{"x":3.81,"y":-3.71},{"x":3.23,"y":-3.8},{"x":3.9,"y":-3.27},{"x":-5.18,"y":-4.15},{"x":-2.96,"y":-4.51},{"x":-1.31,"y":-4.91},{"x":2.36,"y":-5.22},{"x":-3.83,"y":-3.49},{"x":-3.25,"y":-3.67},{"x":-2.48,"y":-3.53},{"x":-4.41,"y":-3.36},{"x":-4.21,"y":-3.05},{"x":-2.86,"y":-3.13},{"x":3.52,"y":-3.58},{"x":1.68,"y":-4.02},{"x":0.04,"y":-4.2},{"x":-1.12,"y":-4.11},{"x":0.42,"y":-3.93},{"x":1.58,"y":-3.58},{"x":2.16,"y":-5.26},{"x":0.62,"y":-5.53},{"x":-0.54,"y":-5.89},{"x":1.2,"y":-4.91},{"x":-1.9,"y":-4.99},{"x":6.03,"y":-2.42},{"x":5.45,"y":-2.82},{"x":4.58,"y":-3.22},{"x":-3.83,"y":-3.76},{"x":3.42,"y":-3.76},{"x":-1.8,"y":-4.02},{"x":1.97,"y":-4.15},{"x":-3.25,"y":-4.82},{"x":3.13,"y":-4.82},{"x":-0.93,"y":-5.35},{"x":1.39,"y":-5.89},{"x":-4.99,"y":-5.62},{"x":5.16,"y":-5.35},{"x":5.74,"y":-4.82}
],
"dark":[
{"x":-4.83,"y":8.36},{"x":-3.25,"y":7.48},{"x":-3.87,"y":7.18},{"x":-2.96,"y":7.09},{"x":-3.07,"y":7.16},{"x":-0.87,"y":7.3},{"x":3.09,"y":7.68},{"x":1.72,"y":7.01},{"x":1.14,"y":6.63},{"x":4.16,"y":6.87},{"x":4.77,"y":6.47},{"x":-4.91,"y":6.4},{"x":-5.03,"y":5.82},{"x":-7.44,"y":5.49},{"x":-3.03,"y":5.93},{"x":-2.38,"y":5.97},{"x":-1.93,"y":5.94},{"x":-1.51,"y":5.83},{"x":-1.12,"y":5.79},{"x":-0.7,"y":5.62},{"x":-1.9,"y":5.58},{"x":-1.31,"y":5.65},{"x":-1.16,"y":5.39},{"x":4.0,"y":5.87},{"x":1.45,"y":5.76},{"x":2.16,"y":5.99},{"x":2.65,"y":6.01},{"x":1.78,"y":5.92},{"x":1.39,"y":5.58},{"x":2.2,"y":5.46},{"x":3.13,"y":5.45},{"x":-6.01,"y":4.99},{"x":-5.0,"y":4.99},{"x":1.12,"y":5.18},{"x":0.62,"y":4.92},{"x":2.16,"y":5.08},{"x":2.68,"y":4.99},{"x":0.91,"y":4.88},{"x":-3.73,"y":4.68},{"x":-3.58,"y":4.41},{"x":-3.15,"y":4.46},{"x":-0.71,"y":4.68},{"x":0.35,"y":4.46},{"x":2.16,"y":4.52},{"x":1.78,"y":4.39},{"x":-8.5,"y":4.15},{"x":-5.41,"y":4.31},{"x":-1.41,"y":4.32},{"x":-0.25,"y":4.19},{"x":-0.15,"y":3.97},{"x":-1.66,"y":3.92},{"x":1.31,"y":4.1},{"x":-6.05,"y":3.63},{"x":-3.67,"y":3.76},{"x":2.55,"y":3.9},{"x":2.61,"y":3.63},{"x":-0.6,"y":3.53},{"x":0.48,"y":3.5},{"x":-2.9,"y":2.88},{"x":-2.28,"y":2.83},{"x":-0.77,"y":2.9},{"x":0.62,"y":2.9},{"x":1.62,"y":2.83},{"x":2.65,"y":2.95},{"x":0.27,"y":2.44},{"x":0.91,"y":3.12},{"x":-0.06,"y":0.91},{"x":3.42,"y":-0.91},{"x":5.45,"y":-1.17},
{"x":3.71,"y":-1.87},{"x":8.83,"y":-2.01},{"x":-0.79,"y":-2.11},{"x":-0.7,"y":-2.26},{"x":-0.77,"y":-2.41},{"x":-2.48,"y":-2.54},{"x":1.52,"y":-2.45},{"x":3.71,"y":-2.58},{"x":-4.89,"y":-2.6},{"x":-3.67,"y":-2.73},{"x":-6.01,"y":-3.05},{"x":0.62,"y":-2.82},{"x":0.23,"y":-3.0},{"x":-1.26,"y":-3.07},{"x":1.55,"y":-3.22},{"x":2.36,"y":-2.96},{"x":2.74,"y":-3.18},{"x":0.23,"y":-3.36},{"x":0.46,"y":-3.47},{"x":-1.18,"y":-3.47},{"x":-5.22,"y":-3.56},{"x":2.36,"y":-3.58},{"x":2.16,"y":-3.8},{"x":-0.35,"y":-3.67},{"x":-1.7,"y":-3.76},{"x":-2.82,"y":-3.83},{"x":0.91,"y":-3.87},{"x":-0.93,"y":-3.87},{"x":-4.74,"y":-4.07},{"x":-3.88,"y":-4.07},{"x":-3.05,"y":-4.22},{"x":-1.99,"y":-4.18},{"x":-0.74,"y":-4.24},{"x":1.1,"y":-4.27},{"x":2.59,"y":-4.24},{"x":6.42,"y":-4.09},{"x":-1.51,"y":-4.42},{"x":0.42,"y":-4.47},{"x":1.58,"y":-4.51},{"x":2.36,"y":-4.38},{"x":-3.73,"y":-4.6},{"x":-2.19,"y":-4.66},{"x":0.0,"y":-4.71},{"x":2.45,"y":-4.8},{"x":3.48,"y":-4.84},{"x":4.39,"y":-4.95},{"x":-4.83,"y":-4.93},{"x":-5.33,"y":-5.13},{"x":1.16,"y":-4.91},{"x":5.84,"y":-5.18},{"x":-2.82,"y":-5.19},{"x":-2.38,"y":-5.42},{"x":-1.31,"y":-5.26},{"x":-0.54,"y":-5.22},{"x":0.04,"y":-5.18},{"x":0.91,"y":-5.4},{"x":1.93,"y":-5.25},{"x":-0.54,"y":-5.62},{"x":2.84,"y":-5.68},{"x":3.52,"y":-5.57},{"x":-1.6,"y":-5.78},{"x":-0.15,"y":-5.97},{"x":-1.03,"y":-6.06},{"x":-0.7,"y":-6.15},{"x":-4.56,"y":-6.68},{"x":-3.05,"y":-6.82},{"x":-1.99,"y":-6.73},{"x":-1.31,"y":-7.04},{"x":-1.12,"y":-7.22},{"x":-0.19,"y":-6.91},{"x":0.19,"y":-6.64},{"x":1.29,"y":-6.82},{"x":1.52,"y":-6.55},{"x":1.58,"y":-7.24},{"x":2.39,"y":-7.22},{"x":3.65,"y":-6.49},{"x":2.03,"y":-7.68},{"x":-5.04,"y":-7.63},{"x":-1.16,"y":-8.5},{"x":3.13,"y":-8.86},{"x":2.68,"y":-9.44},{"x":-1.57,"y":-9.61},{"x":-0.15,"y":-10.81},{"x":-2.94,"y":-11.19}
],
"light":[
{"x":-10.68,"y":2.03},{"x":-12.81,"y":1.15},{"x":-12.33,"y":0.77},{"x":-13.68,"y":0.64},{"x":-15.23,"y":0.37},{"x":-16.48,"y":0.19},{"x":-18.41,"y":0.28},{"x":-16.1,"y":-0.07},{"x":-15.23,"y":-0.47},{"x":-14.07,"y":-0.56},{"x":-15.03,"y":-0.69},{"x":-12.91,"y":0.11},{"x":-12.04,"y":-0.51},{"x":-12.33,"y":-1.23},{"x":-10.78,"y":0.91},{"x":-10.01,"y":0.82},{"x":-9.23,"y":1.17},{"x":-11.36,"y":0.28},{"x":-10.39,"y":0.15},{"x":-9.62,"y":0.33},{"x":-8.66,"y":0.15},{"x":-7.69,"y":0.15},{"x":-6.72,"y":0.19},{"x":-5.76,"y":0.24},{"x":-4.79,"y":0.19},{"x":-3.83,"y":0.06},{"x":-3.44,"y":-0.29},{"x":-4.21,"y":-0.56},{"x":-4.99,"y":-0.83},{"x":-4.02,"y":-1.09},{"x":-3.05,"y":-1.18},{"x":-9.43,"y":-0.74},{"x":-8.66,"y":-0.69},{"x":-7.69,"y":-0.65},{"x":-6.53,"y":-0.87},{"x":-7.3,"y":-1.27},{"x":-8.75,"y":-1.31},{"x":-7.88,"y":-1.8},{"x":-6.53,"y":-1.89},{"x":-8.85,"y":-1.98},{"x":-7.69,"y":-2.34},{"x":-5.57,"y":-1.54},{"x":-6.14,"y":-2.42},{"x":-7.88,"y":-2.56},{"x":-10.78,"y":0.68},{"x":-12.33,"y":-0.2},{"x":-13.1,"y":-0.29},{"x":-14.07,"y":0.11},{"x":-14.45,"y":0.33},{"x":-15.61,"y":0.15},{"x":-16.58,"y":-0.12},{"x":-8.66,"y":2.02},{"x":-7.88,"y":1.57},{"x":-7.11,"y":1.48},{"x":-6.53,"y":1.3},{"x":-5.76,"y":1.39},{"x":-4.79,"y":1.48},{"x":-3.25,"y":1.17},{"x":-20.64,"y":-0.03},{"x":-20.45,"y":0.24},{"x":-10.2,"y":-0.2},{"x":-9.23,"y":-0.2},{"x":-8.08,"y":-0.29},{"x":-6.92,"y":-0.25},{"x":-5.76,"y":-0.29},{"x":-4.79,"y":-0.29},{"x":-6.14,"y":0.77},{"x":-4.99,"y":0.77},{"x":-7.69,"y":0.68},{"x":-9.23,"y":0.64},{"x":-4.02,"y":0.77},{"x":-4.41,"y":0.51},{"x":-21.22,"y":0.02},{"x":-20.54,"y":0.19},{"x":-18.36,"y":0.26},{"x":-15.8,"y":-0.03},{"x":-15.23,"y":0.28},{"x":-12.93,"y":-6.5},{"x":-7.83,"y":-3.97},{"x":-4.23,"y":-5.83},{"x":-7.42,"y":-2.32},{"x":-6.05,"y":-2.47},{"x":-5.03,"y":-2.94},{"x":-4.45,"y":-4.55},{"x":-6.63,"y":-1.94},{"x":-4.5,"y":-2.47},{"x":3.13,"y":-2.87},{"x":4.39,"y":-3.03},{"x":5.32,"y":-2.16},{"x":6.61,"y":-2.16},{"x":6.8,"y":-2.07},{"x":8.87,"y":-3.13},{"x":6.75,"y":-3.98},{"x":4.64,"y":-5.02},{"x":-5.57,"y":-1.55},{"x":6.07,"y":-1.45},{"x":7.87,"y":-1.4},
{"x":3.9,"y":2.55},{"x":3.9,"y":2.06},{"x":4.87,"y":2.19},{"x":7.58,"y":1.93},{"x":7.96,"y":1.7},{"x":10.09,"y":1.35},{"x":4.68,"y":1.48},{"x":5.45,"y":1.84},{"x":6.22,"y":1.66},{"x":2.55,"y":0.24},{"x":2.55,"y":-0.29},{"x":3.52,"y":0.95},{"x":4.48,"y":1.08},{"x":5.45,"y":1.17},{"x":6.8,"y":1.13},{"x":3.52,"y":0.33},{"x":4.68,"y":0.42},{"x":5.84,"y":0.51},{"x":7.0,"y":0.59},{"x":8.16,"y":0.77},{"x":9.7,"y":0.86},{"x":8.54,"y":0.95},{"x":3.9,"y":-0.03},{"x":5.06,"y":0.06},{"x":6.22,"y":0.11},{"x":7.38,"y":0.15},{"x":8.54,"y":0.24},{"x":9.7,"y":0.28},{"x":10.67,"y":0.33},{"x":11.43,"y":0.68},{"x":11.63,"y":0.24},{"x":12.61,"y":0.15},{"x":12.8,"y":-0.12},{"x":13.95,"y":0.33},{"x":14.53,"y":-0.2},{"x":15.5,"y":-0.03},{"x":16.37,"y":0.37},{"x":17.43,"y":0.15},{"x":15.88,"y":-0.74},{"x":17.43,"y":-0.47},{"x":18.49,"y":-0.51},{"x":19.36,"y":0.06},{"x":19.94,"y":-0.43},{"x":19.94,"y":-0.03},{"x":21.1,"y":-0.25},{"x":2.74,"y":1.57},{"x":3.71,"y":1.48},{"x":5.06,"y":1.66},{"x":2.55,"y":0.59},{"x":8.74,"y":-0.29},{"x":10.09,"y":-0.2},{"x":10.48,"y":-0.74},{"x":8.93,"y":-0.69},{"x":11.83,"y":-0.6},{"x":7.77,"y":-0.38},{"x":6.42,"y":-0.29},{"x":5.26,"y":-0.29},{"x":4.1,"y":-0.47},{"x":5.84,"y":-0.74},{"x":7.0,"y":-0.92},{"x":4.87,"y":-1.09},{"x":6.03,"y":-1.36},{"x":7.77,"y":-1.27},{"x":6.8,"y":-1.18},{"x":5.26,"y":-2.16},{"x":6.42,"y":-2.2},{"x":6.61,"y":-2.02},{"x":13.77,"y":0.42},{"x":14.72,"y":-0.03},{"x":12.61,"y":-0.03},{"x":13.57,"y":-0.29},{"x":5.16,"y":4.42},{"x":-5.46,"y":3.7},{"x":3.9,"y":2.64},{"x":-4.6,"y":2.42},{"x":4.87,"y":2.24},{"x":2.65,"y":-0.34},{"x":5.64,"y":-2.16},{"x":-5.37,"y":3.79},
{"x":-8.46,"y":0.51},{"x":-7.3,"y":0.51},{"x":-6.14,"y":0.51},{"x":-4.99,"y":0.51},{"x":-3.83,"y":0.51},{"x":-9.04,"y":-0.03},{"x":-7.88,"y":-0.03},{"x":-6.72,"y":-0.03},{"x":-5.57,"y":-0.03},{"x":-4.41,"y":-0.03},{"x":-3.25,"y":-0.03},{"x":-8.46,"y":-0.56},{"x":-7.3,"y":-0.56},{"x":-6.14,"y":-0.56},{"x":-5.0,"y":-0.5},{"x":-3.83,"y":-0.56},{"x":-6.72,"y":-1.09},{"x":-5.57,"y":-1.09},{"x":-4.41,"y":-1.09},{"x":-10.78,"y":-0.29},{"x":-9.62,"y":0.24},{"x":-11.94,"y":0.11},{"x":-13.1,"y":0.37},{"x":-11.36,"y":0.64},{"x":-6.72,"y":0.91},{"x":-4.99,"y":1.04},{"x":-3.25,"y":0.64},{"x":-2.96,"y":-0.56},{"x":-5.86,"y":-1.36},{"x":-4.7,"y":-1.62},
{"x":3.13,"y":0.77},{"x":4.29,"y":0.77},{"x":5.45,"y":0.77},{"x":6.61,"y":0.77},{"x":7.77,"y":0.51},{"x":3.13,"y":0.24},{"x":4.29,"y":0.24},{"x":5.45,"y":0.24},{"x":6.61,"y":0.37},{"x":3.13,"y":-0.29},{"x":4.29,"y":-0.29},{"x":5.45,"y":-0.56},{"x":6.61,"y":-0.56},{"x":3.42,"y":-0.83},{"x":4.58,"y":-0.96},{"x":5.74,"y":-1.23},{"x":8.93,"y":0.51},{"x":10.67,"y":-0.03},{"x":11.83,"y":-0.16},{"x":12.99,"y":0.24},{"x":2.84,"y":1.3},{"x":4.0,"y":1.17},
{"x":-9.5,"y":1.0},{"x":-8.7,"y":1.0},{"x":-7.9,"y":1.0},{"x":-7.1,"y":1.0},{"x":-6.3,"y":1.0},{"x":-5.5,"y":1.0},{"x":-4.7,"y":1.0},{"x":-3.9,"y":1.0},
{"x":-11.6,"y":0.65},{"x":-10.8,"y":0.65},{"x":-10.0,"y":0.65},{"x":-9.2,"y":0.65},{"x":-8.4,"y":0.65},{"x":-7.6,"y":0.65},{"x":-6.8,"y":0.65},{"x":-6.0,"y":0.65},{"x":-5.2,"y":0.65},{"x":-4.4,"y":0.65},{"x":-3.6,"y":0.65},
{"x":-12.4,"y":0.3},{"x":-11.6,"y":0.3},{"x":-10.8,"y":0.3},{"x":-10.0,"y":0.3},{"x":-9.2,"y":0.3},{"x":-8.4,"y":0.3},{"x":-7.6,"y":0.3},{"x":-6.8,"y":0.3},{"x":-6.0,"y":0.3},{"x":-5.2,"y":0.3},{"x":-4.4,"y":0.3},{"x":-3.6,"y":0.3},
{"x":-13.0,"y":-0.05},{"x":-12.2,"y":-0.05},{"x":-11.4,"y":-0.05},{"x":-10.6,"y":-0.05},{"x":-9.8,"y":-0.05},{"x":-9.0,"y":-0.05},{"x":-8.2,"y":-0.05},{"x":-7.4,"y":-0.05},{"x":-6.6,"y":-0.05},{"x":-5.8,"y":-0.05},{"x":-5.0,"y":-0.05},{"x":-4.2,"y":-0.05},{"x":-3.5,"y":-0.05},
{"x":-11.6,"y":-0.4},{"x":-10.8,"y":-0.4},{"x":-10.0,"y":-0.4},{"x":-9.2,"y":-0.4},{"x":-8.4,"y":-0.4},{"x":-7.6,"y":-0.4},{"x":-6.8,"y":-0.4},{"x":-6.0,"y":-0.4},{"x":-5.2,"y":-0.4},{"x":-4.4,"y":-0.4},{"x":-3.6,"y":-0.4},
{"x":-10.4,"y":-0.75},{"x":-9.6,"y":-0.75},{"x":-8.8,"y":-0.75},{"x":-8.0,"y":-0.75},{"x":-7.2,"y":-0.75},{"x":-6.4,"y":-0.75},{"x":-5.6,"y":-0.75},{"x":-4.8,"y":-0.75},{"x":-4.0,"y":-0.75},
{"x":-8.4,"y":-1.1},{"x":-7.6,"y":-1.1},{"x":-6.8,"y":-1.1},{"x":-6.0,"y":-1.1},{"x":-5.2,"y":-1.1},{"x":-4.4,"y":-1.1},
{"x":3.0,"y":1.3},{"x":3.8,"y":1.3},{"x":4.6,"y":1.3},{"x":5.4,"y":1.3},{"x":6.2,"y":1.3},
{"x":2.8,"y":0.95},{"x":3.6,"y":0.95},{"x":4.4,"y":0.95},{"x":5.2,"y":0.95},{"x":6.0,"y":0.95},{"x":6.8,"y":0.95},{"x":7.6,"y":0.95},
{"x":3.2,"y":0.6},{"x":4.0,"y":0.6},{"x":4.8,"y":0.6},{"x":5.6,"y":0.6},{"x":6.4,"y":0.6},{"x":7.2,"y":0.6},{"x":8.0,"y":0.6},{"x":8.8,"y":0.6},{"x":9.6,"y":0.6},
{"x":2.8,"y":0.25},{"x":3.6,"y":0.25},{"x":4.4,"y":0.25},{"x":5.2,"y":0.25},{"x":6.0,"y":0.25},{"x":6.8,"y":0.25},{"x":7.6,"y":0.25},{"x":8.4,"y":0.25},{"x":9.2,"y":0.25},{"x":10.0,"y":0.25},{"x":10.8,"y":0.25},
{"x":3.2,"y":-0.1},{"x":4.0,"y":-0.1},{"x":4.8,"y":-0.1},{"x":5.6,"y":-0.1},{"x":6.4,"y":-0.1},{"x":7.2,"y":-0.1},{"x":8.0,"y":-0.1},{"x":8.8,"y":-0.1},{"x":9.6,"y":-0.1},{"x":10.4,"y":-0.1},
{"x":2.8,"y":-0.45},{"x":3.6,"y":-0.45},{"x":4.4,"y":-0.45},{"x":5.2,"y":-0.45},{"x":6.0,"y":-0.45},{"x":6.8,"y":-0.45},{"x":7.6,"y":-0.45},{"x":8.4,"y":-0.45},{"x":9.2,"y":-0.45},
{"x":3.2,"y":-0.8},{"x":4.0,"y":-0.8},{"x":4.8,"y":-0.8},{"x":5.6,"y":-0.8},{"x":6.4,"y":-0.8},{"x":7.2,"y":-0.8},{"x":8.0,"y":-0.8},
{"x":3.6,"y":-1.15},{"x":4.4,"y":-1.15},{"x":5.2,"y":-1.15},{"x":6.0,"y":-1.15}
],
"genes":[
{"t":"GPI","x":-31.25,"y":-0.03,"lx":-32.58,"ly":0.77,"ax":-31.65,"ay":0.48,"bx":-31.3,"by":0.16},
{"t":"ENO1","x":-26.38,"y":0.29,"lx":-28.58,"ly":3.01,"ax":-26.38,"ay":2.5,"bx":-26.38,"by":0.4},
{"t":"RTCB","x":-23.71,"y":0.24,"lx":-21.57,"ly":0.69,"ax":-23.71,"ay":0.35,"bx":-23.71,"by":0.19},
{"t":"PKM","x":-22.38,"y":0.16,"lx":-22.09,"ly":-2.98,"ax":-22.38,"ay":0.16,"bx":-22.38,"by":-2.61},
{"t":"PCID2","x":-21.51,"y":-0.4,"lx":-18.32,"ly":-1.15,"ax":-21.57,"ay":-0.35,"bx":-20.41,"by":-0.72},
{"t":"ARHGAP12","x":0,"y":0.16,"lx":-4.23,"ly":2.0,"ax":0,"ay":1.7,"bx":0,"by":0.16},
{"t":"SLC19A2","x":-0.06,"y":0.03,"lx":-5.39,"ly":0.72,"ax":-1.97,"ay":0.32,"bx":-0.06,"by":0.0},
{"t":"GPR137","x":0,"y":-0.05,"lx":3.01,"ly":-0.93,"ax":0,"ay":-0.05,"bx":0,"by":-0.48},
{"t":"WAC","x":22.14,"y":0.11,"lx":23.94,"ly":0.59,"ax":22.14,"ay":0.24,"bx":22.14,"by":0.03},
{"t":"BCL2L1","x":36.35,"y":-0.19,"lx":33.45,"ly":-0.61,"ax":36.35,"ay":-0.11,"bx":36.35,"by":-0.32}
],
"notes":[
{"t":"Differential Expression","x":-42.96,"y":-1.17,"k":"rot"},
{"t":"(Log2(FC))","x":-41.28,"y":-1.12,"k":"rot"},
{"t":"Upregulated In","x":-43.83,"y":6.6,"k":"rot"},
{"t":"Male Cell Lines","x":-41.39,"y":6.58,"k":"rot"},
{"t":"Upregulated In","x":-43.83,"y":-9.08,"k":"rot"},
{"t":"Female Cell Lines","x":-41.39,"y":-8.71,"k":"rot"},
{"t":"Lung","x":-46.84,"y":-0.61,"k":"lung"},
{"t":"More Essential In","x":-26.67,"y":-13.82,"k":"hor"},
{"t":"Male Cell Lines","x":-27.19,"y":-14.89,"k":"hor"},
{"t":"Differential Essentiality","x":-3.54,"y":-13.95,"k":"hor"},
{"t":"(Δ Average BF)","x":-4.81,"y":-14.81,"k":"hor"},
{"t":"More Essential In","x":31.71,"y":-13.79,"k":"hor"},
{"t":"Female Cell Lines","x":31.65,"y":-14.89,"k":"hor"},
{"t":"c","x":-45.74,"y":10.17,"k":"tag"}
],
"arrows":[
{"x":-42.67,"y":2.9,"x2":-42.67,"y2":9.0},
{"x":-42.67,"y":-5.27,"x2":-42.67,"y2":-11.7},
{"x":-13.28,"y":-14.33,"x2":-34.4,"y2":-14.33},
{"x":6.2,"y":-14.27,"x2":39.2,"y2":-14.27}
],
"heads":[
{"x":-42.67,"y":9.05,"dir":"up"},
{"x":-42.67,"y":-11.83,"dir":"down"},
{"x":-34.45,"y":-14.33,"dir":"left"},
{"x":39.3,"y":-14.27,"dir":"right"}
]
},
"encoding":{
"x":{"field":"x","type":"quantitative","scale":{"domain":[-34.72,39.88],"nice":false,"zero":false},"axis":{"values":[-30,-20,-10,0,10,20,30],"format":"d","title":null}},
"y":{"field":"y","type":"quantitative","scale":{"domain":[-12.17,9.35],"nice":false,"zero":false},"axis":{"values":[-10,-7.5,-5,-2.5,0,2.5,5,7.5],"format":".1f","title":null}}
},
"layer":[
{"data":{"name":"gray"},"mark":{"type":"circle","size":52,"fill":"#808080","fillOpacity":0.55,"stroke":"#808080","strokeOpacity":0.6,"strokeWidth":1.2}},
{"data":{"name":"dark"},"mark":{"type":"circle","size":200,"fill":"#1f78b4","fillOpacity":0.75,"stroke":"#1f78b4","strokeOpacity":0.9,"strokeWidth":1.5}},
{"data":{"name":"light"},"mark":{"type":"circle","size":200,"fill":"#a6cee3","fillOpacity":0.72,"stroke":"#a6cee3","strokeOpacity":0.85,"strokeWidth":1.5}},
{"data":{"name":"genes"},"mark":{"type":"circle","size":230,"fill":"#a6cee3","fillOpacity":0.9,"stroke":"#b2182b","strokeWidth":2.5,"strokeOpacity":1}},
{"data":{"name":"genes"},"mark":{"type":"rule","color":"black","strokeWidth":2},"encoding":{"x":{"field":"ax","type":"quantitative"},"y":{"field":"ay","type":"quantitative"},"x2":{"field":"bx"},"y2":{"field":"by"}}},
{"data":{"name":"genes"},"mark":{"type":"text","font":"DejaVu Sans","fontSize":26,"color":"black","align":"center","baseline":"middle"},"encoding":{"x":{"field":"lx","type":"quantitative"},"y":{"field":"ly","type":"quantitative"},"text":{"field":"t"}}},
{"data":{"name":"notes"},"transform":[{"filter":"datum.k==='rot'"}],"mark":{"type":"text","font":"DejaVu Sans","fontSize":26,"color":"black","align":"center","baseline":"middle","angle":270},"encoding":{"text":{"field":"t"}}},
{"data":{"name":"notes"},"transform":[{"filter":"datum.k==='hor'"}],"mark":{"type":"text","font":"DejaVu Sans","fontSize":26,"color":"black","align":"center","baseline":"middle"},"encoding":{"text":{"field":"t"}}},
{"data":{"name":"notes"},"transform":[{"filter":"datum.k==='lung'"}],"mark":{"type":"text","font":"DejaVu Sans","fontSize":40,"color":"black","align":"center","baseline":"middle","angle":270},"encoding":{"text":{"field":"t"}}},
{"data":{"name":"notes"},"transform":[{"filter":"datum.k==='tag'"}],"mark":{"type":"text","font":"DejaVu Sans","fontSize":50,"fontWeight":"bold","color":"black","align":"center","baseline":"middle"},"encoding":{"text":{"field":"t"}}},
{"data":{"name":"arrows"},"mark":{"type":"rule","color":"black","strokeWidth":2},"encoding":{"x2":{"field":"x2"},"y2":{"field":"y2"}}},
{"data":{"name":"heads"},"mark":{"type":"point","filled":true,"fill":"black","size":130,"opacity":1,"strokeWidth":0},"encoding":{"shape":{"field":"dir","type":"nominal","scale":{"domain":["up","down","left","right"],"range":["triangle-up","triangle-down","triangle-left","triangle-right"]},"legend":null}}}
]
}
